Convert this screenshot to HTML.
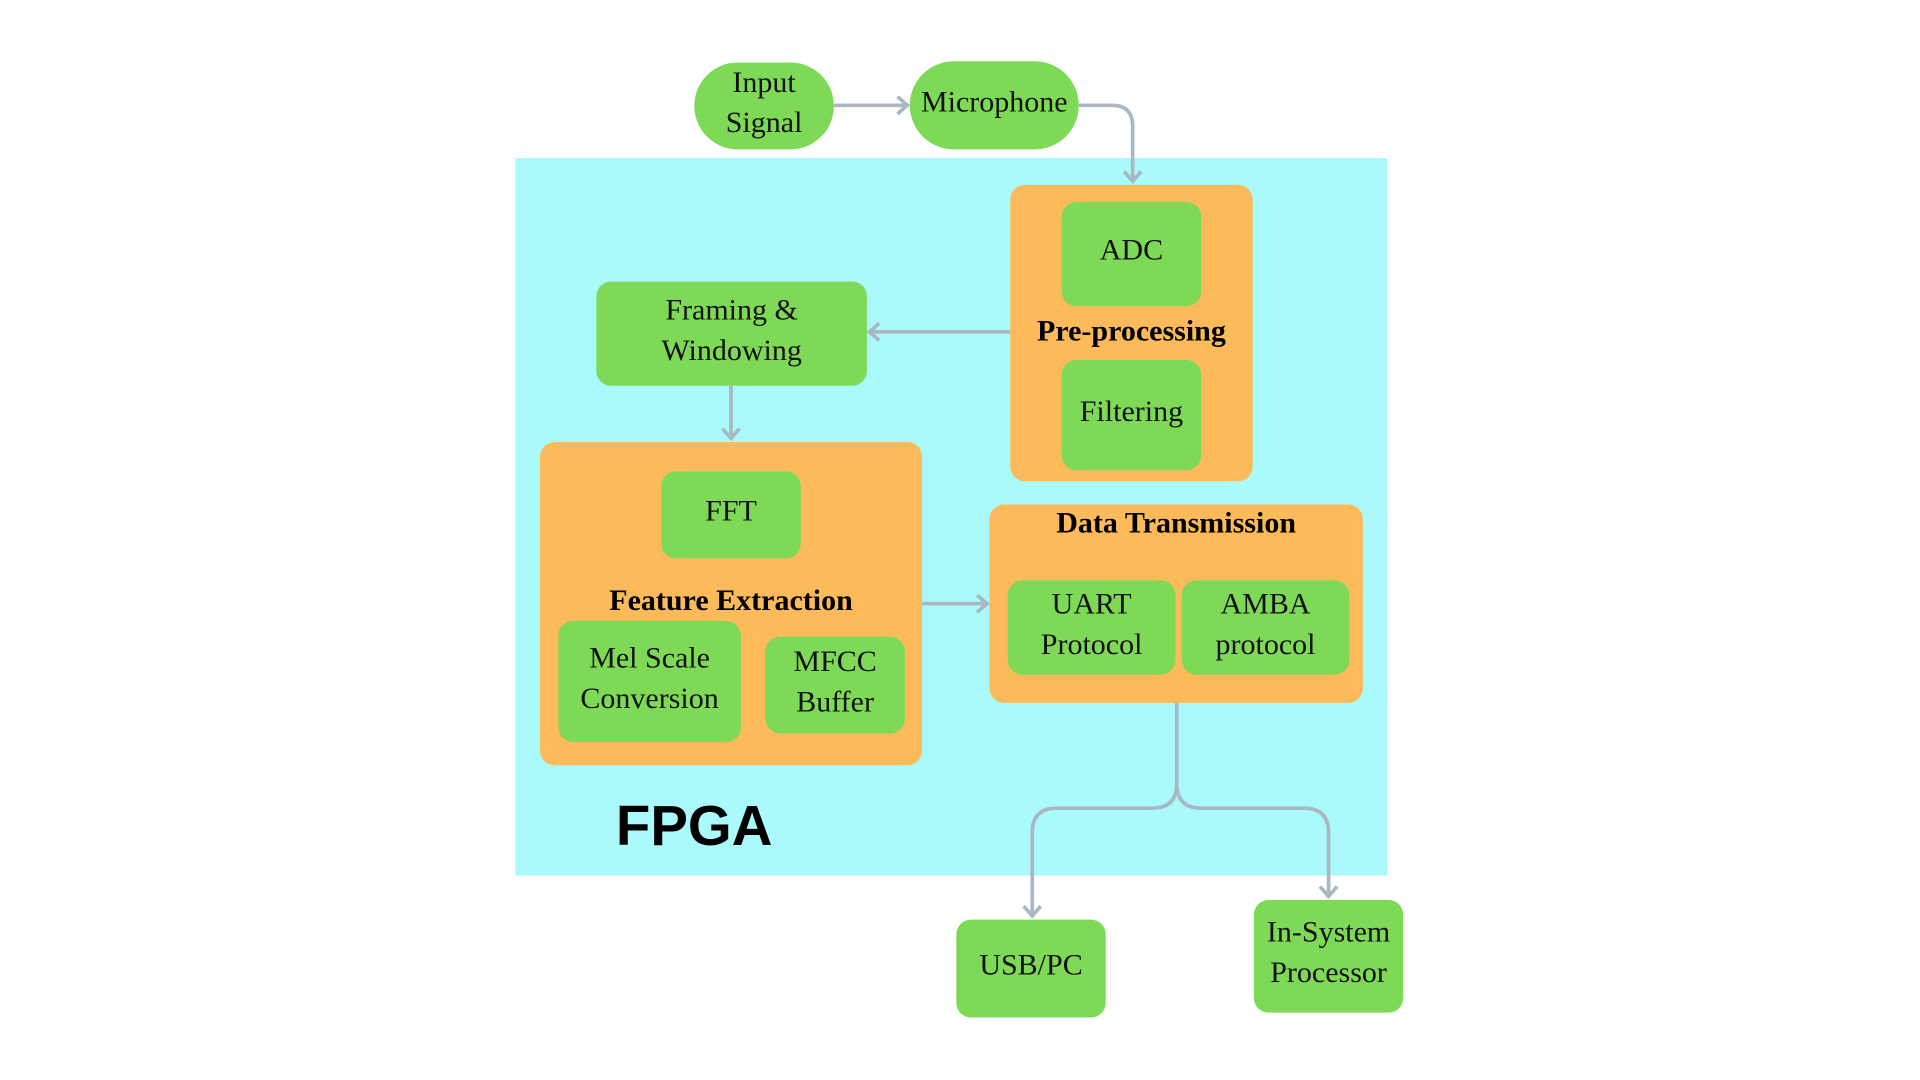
<!DOCTYPE html>
<html><head><meta charset="utf-8"><style>
html,body{margin:0;padding:0;background:#fff;width:1920px;height:1080px;overflow:hidden}
#w{position:absolute;left:0;top:0;width:1568px;height:882px;transform:scale(1.22449);transform-origin:0 0}
.b{position:absolute;display:flex;align-items:center;justify-content:center;text-align:center;font-family:"Liberation Serif",serif;font-size:24.5px;line-height:33px;color:#111;box-sizing:border-box;padding-bottom:6px}
.g{background:#7ed957;border-radius:12px}
.o{background:#fdba5a;border-radius:12px}
.t{position:absolute;font-family:"Liberation Serif",serif;font-weight:bold;font-size:24.5px;color:#000;text-align:center;white-space:nowrap}
</style></head><body><div id="w">
<div style="position:absolute;left:421px;top:129px;width:712px;height:586px;background:#aaf9fb"></div>
<div class="b o" style="left:825px;top:151px;width:198px;height:242px"></div>
<div class="b o" style="left:441px;top:361px;width:312px;height:264px"></div>
<div class="b o" style="left:808px;top:412px;width:305px;height:162px"></div>
<div class="b g" style="left:567px;top:51px;width:114px;height:71px;border-radius:36px">Input<br>Signal</div>
<div class="b g" style="left:743px;top:50px;width:138px;height:72px;border-radius:36px">Microphone</div>
<div class="b g" style="left:867px;top:165px;width:114px;height:85px">ADC</div>
<div class="b g" style="left:867px;top:294px;width:114px;height:90px">Filtering</div>
<div class="t" style="left:825px;width:198px;top:257px">Pre-processing</div>
<div class="b g" style="left:487px;top:230px;width:221px;height:85px">Framing &amp;<br>Windowing</div>
<div class="b g" style="left:540px;top:385px;width:114px;height:71px">FFT</div>
<div class="t" style="left:441px;width:312px;top:477px">Feature Extraction</div>
<div class="b g" style="left:456px;top:507px;width:149px;height:99px">Mel Scale<br>Conversion</div>
<div class="b g" style="left:625px;top:520px;width:114px;height:79px">MFCC<br>Buffer</div>
<div class="t" style="left:808px;width:305px;top:414px">Data Transmission</div>
<div class="b g" style="left:823px;top:474px;width:137px;height:77px">UART<br>Protocol</div>
<div class="b g" style="left:965px;top:474px;width:137px;height:77px">AMBA<br>protocol</div>
<div class="b g" style="left:781px;top:751px;width:122px;height:80px">USB/PC</div>
<div class="b g" style="left:1024px;top:735px;width:122px;height:92px">In-System<br>Processor</div>
<div style="position:absolute;left:503px;top:647px;font-family:'Liberation Sans',sans-serif;font-weight:bold;font-size:46px;color:#000">FPGA</div>
<svg width="1568" height="882" style="position:absolute;left:0;top:0" fill="none" stroke="#a9b8c2" stroke-width="3">
<path d="M681 86H741M733 79l8 7-8 7"/>
<path d="M881 86H908Q925 86 925 103V148M918 140l7 8 7-8"/>
<path d="M825 271H710M718 264l-8 7 8 7"/>
<path d="M597 315V358M590 350l7 8 7-8"/>
<path d="M753 493H806M798 486l8 7-8 7"/>
<path d="M961 574V640Q961 660 941 660H863Q843 660 843 680V748M836 740l7 8 7-8"/>
<path d="M961 640Q961 660 981 660H1065Q1085 660 1085 680V732M1078 724l7 8 7-8"/>
</svg>
</div></body></html>
